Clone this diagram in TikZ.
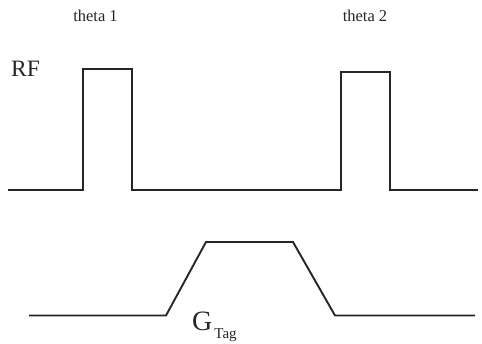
\documentclass[tikz,border=0pt]{standalone}
\usepackage{fontspec}
\setmainfont{Liberation Serif}
\begin{document}
\begin{tikzpicture}[x=1pt,y=-1pt,
  wave/.style={line width=1.9pt,draw=black!85,line join=miter},
  lbl/.style={inner sep=0pt,text=black!85}]
\useasboundingbox (0,0) rectangle (482,343);
% RF waveform
\coordinate (r0) at (8,190);
\coordinate (r1) at (83,190);
\coordinate (r2) at (83,69);
\coordinate (r3) at (132,69);
\coordinate (r4) at (132,190);
\coordinate (r5) at (341,190);
\coordinate (r6) at (341,72);
\coordinate (r7) at (390,72);
\coordinate (r8) at (390,190);
\coordinate (r9) at (478,190);
\draw[wave] (r0) -- (r1) -- (r2) -- (r3) -- (r4) -- (r5) -- (r6) -- (r7) -- (r8) -- (r9);
% Gradient waveform
\coordinate (g0) at (29,315.5);
\coordinate (g1) at (166,315.5);
\coordinate (g2) at (206,242);
\coordinate (g3) at (293,242);
\coordinate (g4) at (335,315.5);
\coordinate (g5) at (475,315.5);
\draw[wave] (g0) -- (g1) -- (g2) -- (g3) -- (g4) -- (g5);
% labels
\node[lbl,font=\fontsize{16.5}{19}\selectfont] (t1) at (95.5,16) {theta 1};
\node[lbl,font=\fontsize{16.5}{19}\selectfont] (t2) at (365,16) {theta 2};
\node[lbl,font=\fontsize{23.5}{26}\selectfont,anchor=west] (rf) at (11,69) {RF};
\node[lbl,font=\fontsize{28}{30}\selectfont,anchor=base west] (gt) at (192,330) {G\hspace{2pt}\raisebox{-0.3em}{\fontsize{15}{17}\selectfont Tag}};
\end{tikzpicture}
\end{document}
